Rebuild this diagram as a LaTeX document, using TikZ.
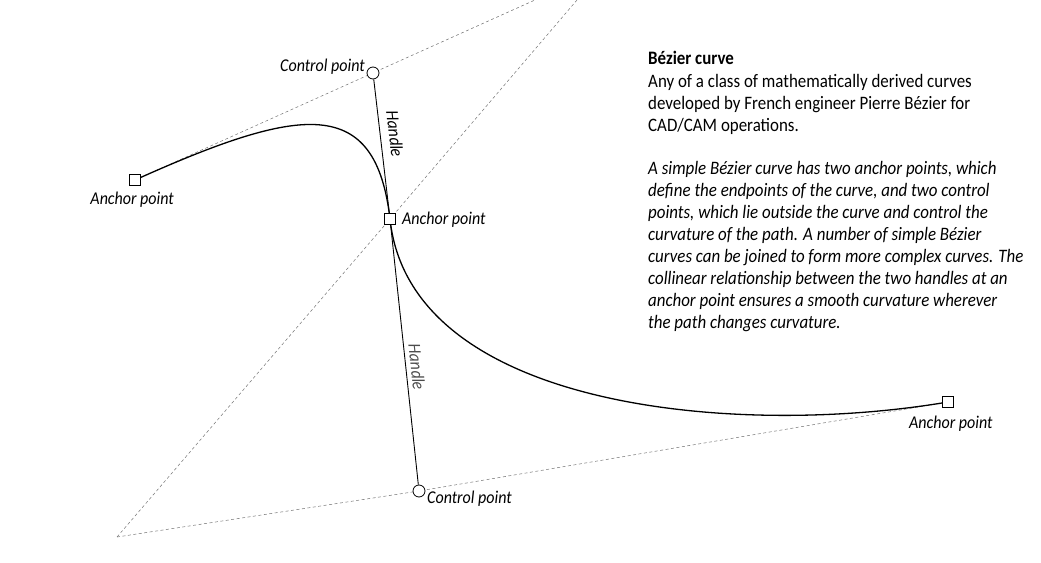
\documentclass[tikz,border=0pt]{standalone}
\usepackage{fontspec}
\setmainfont{Carlito}[FakeStretch=0.89]
\usetikzlibrary{backgrounds}
\begin{document}
\begin{tikzpicture}[x=1pt,y=-1pt,
  anchorbox/.style={draw=black, fill=white, minimum size=11pt, inner sep=0pt, line width=0.6pt},
  ctrlpt/.style={circle, draw=black, fill=white, minimum size=12pt, inner sep=0pt, line width=0.8pt},
  guide/.style={draw=black!55, line width=0.5pt, dash pattern=on 3pt off 2.5pt},
  handleline/.style={draw=black, line width=0.9pt},
  curveline/.style={draw=black, line width=1.3pt},
  lbl/.style={font=\fontsize{18}{20}\selectfont\itshape, inner sep=0pt},
  body/.style={font=\fontsize{19}{22}\selectfont, align=left, inner sep=0pt, anchor=north west}
]
\useasboundingbox (0,0) rectangle (1041,562);

% points
\node[anchorbox] (L) at (135,180) {};
\node[ctrlpt] (C1) at (373,73) {};
\node[anchorbox] (M) at (390,219) {};
\node[ctrlpt] (C2) at (419,491) {};
\node[anchorbox] (R) at (948,402) {};
\coordinate (T1) at (535,0);
\coordinate (T2) at (577,0);
\coordinate (B) at (117,537);

\begin{scope}[on background layer]
  \draw[guide] (L.center) -- (T1);
  \draw[guide] (T2) -- (M.center) -- (B);
  \draw[guide] (B) -- (C2.center) -- (R.center);
  \draw[handleline] (C1) -- (M.center) -- (C2);
  \draw[curveline] (L.center) .. controls (302,105) and (375.5,95) .. (M.center)
        .. controls (410,409) and (736,438) .. (R.center);
\end{scope}

% labels
\node[lbl, anchor=base east] (c1lbl) at (365,71) {Control point};
\node[lbl, anchor=base east] (llbl) at (174,204) {Anchor point};
\node[lbl, anchor=base west] (mlbl) at (402,224) {Anchor point};
\node[lbl, anchor=base west] (rlbl) at (909,428) {Anchor point};
\node[lbl, anchor=base west] (c2lbl) at (427,503) {Control point};
\node[lbl, rotate=-83.4] (h1) at (395,134) {Handle};
\node[lbl, rotate=-83.9, text=black!70] (h2) at (417,367) {Handle};

% text block
\node[body, font=\fontsize{19}{22}\selectfont\bfseries] (title) at (648,51) {Bézier curve};
\node[body] (def) at (648,74) {Any of a class of mathematically derived curves\\developed by French engineer Pierre Bézier for\\CAD/CAM operations.};
\node[body, font=\fontsize{19}{22}\selectfont\itshape] (desc) at (648,161) {A simple Bézier curve has two anchor points, which\\define the endpoints of the curve, and two control\\points, which lie outside the curve and control the\\curvature of the path. A number of simple Bézier\\curves can be joined to form more complex curves. The\\collinear relationship between the two handles at an\\anchor point ensures a smooth curvature wherever\\the path changes curvature.};
\end{tikzpicture}
\end{document}
